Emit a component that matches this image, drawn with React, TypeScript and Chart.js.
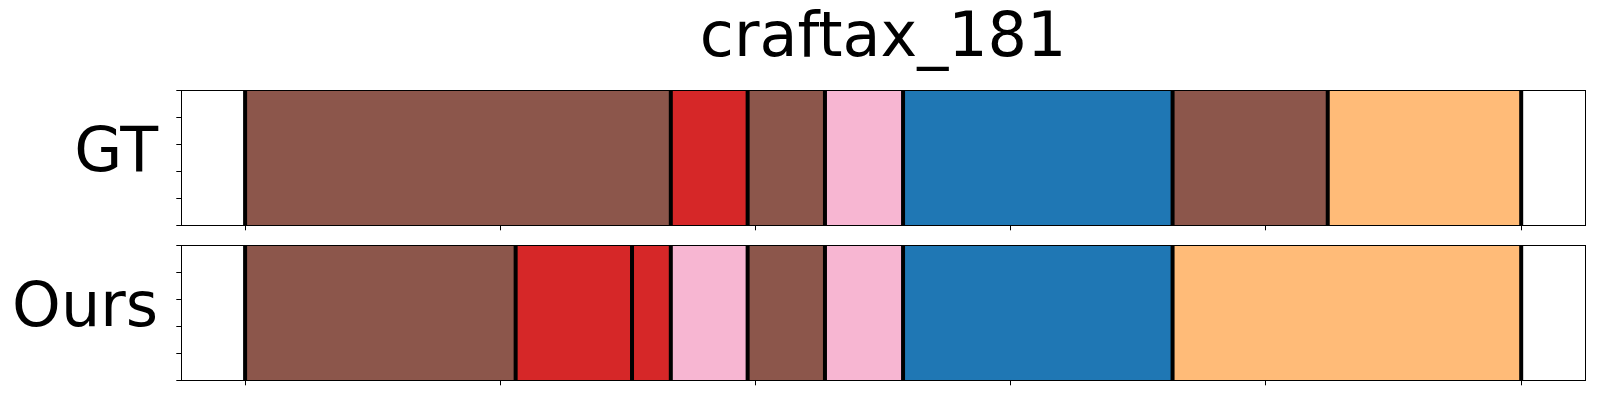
import { useEffect, useRef } from 'react';
import { Chart, registerables } from 'chart.js';

Chart.register(...registerables);

const chartTitle = 'craftax_181';
const rowLabels = ['GT', 'Ours'];
const xTickValues = [0, 50, 100, 150, 200, 250];
const yTickValues = [0, 0.25, 0.5, 0.75, 1];
const xDataMin = 0;
const xDataMax = 250;

const gtStarts = [0, 83.4, 98.45, 113.6, 128.9, 181.7, 212.1];
const gtEnds = [83.4, 98.45, 113.6, 128.9, 181.7, 212.1, 250];
const gtClasses = [10, 6, 10, 13, 0, 10, 3];

const oursStarts = [0, 53.0, 75.8, 83.4, 98.45, 113.6, 128.9, 181.7];
const oursEnds = [53.0, 75.8, 83.4, 98.45, 113.6, 128.9, 181.7, 250];
const oursClasses = [10, 6, 6, 13, 10, 13, 0, 3];

const tab20 = [
  '#1f77b4', '#aec7e8', '#ff7f0e', '#ffbb78', '#2ca02c', '#98df8a', '#d62728', '#ff9896',
  '#9467bd', '#c5b0d5', '#8c564b', '#c49c94', '#e377c2', '#f7b6d2', '#7f7f7f', '#c7c7c7',
  '#bcbd22', '#dbdb8d', '#17becf', '#9edae5',
];

const FONT = '"DejaVu Sans", "Liberation Sans", sans-serif';

function align(px: number, w: number) {
  const h = w / 2;
  return Math.round(px - h) + h;
}

const segmentPlugin = {
  id: 'segmentFrame',
  afterDraw(chart: any) {
    const { ctx, chartArea: a, scales } = chart;
    const data = chart.data.datasets[0].data as { x: number[] }[];
    const edges = new Set<number>();
    data.forEach((d) => {
      edges.add(d.x[0]);
      edges.add(d.x[1]);
    });
    ctx.save();
    ctx.strokeStyle = '#000';
    ctx.lineWidth = 4;
    ctx.beginPath();
    edges.forEach((v) => {
      const px = scales.x.getPixelForValue(v);
      ctx.moveTo(px, a.top);
      ctx.lineTo(px, a.bottom);
    });
    ctx.stroke();
    ctx.lineWidth = 1;
    const l = align(a.left, 1);
    const r = align(a.right, 1);
    const t = align(a.top, 1);
    const b = align(a.bottom, 1);
    ctx.strokeRect(l, t, r - l, b - t);
    ctx.restore();
  },
};

function makeConfig(
  label: string,
  starts: number[],
  ends: number[],
  classes: number[],
  withTitle: boolean,
  pad: { top: number; bottom: number }
): any {
  const margin = (xDataMax - xDataMin) * 0.05;
  return {
    type: 'bar',
    data: {
      labels: [label],
      datasets: [
        {
          data: starts.map((s, i) => ({ y: label, x: [s, ends[i]] })),
          backgroundColor: classes.map((c) => tab20[c]),
          borderWidth: 0,
          categoryPercentage: 1,
          barPercentage: 1,
          xAxisID: 'x',
          yAxisID: 'y',
        },
      ],
    },
    options: {
      indexAxis: 'y',
      animation: false,
      responsive: false,
      maintainAspectRatio: false,
      events: [],
      layout: { padding: { left: 0, right: 15, top: pad.top, bottom: pad.bottom } },
      plugins: {
        legend: { display: false },
        tooltip: { enabled: false },
        title: {
          display: withTitle,
          fullSize: false,
          text: chartTitle,
          color: '#000',
          font: { family: FONT, size: 62, weight: 'normal' },
          padding: { top: 3, bottom: 12.9 },
        },
      },
      scales: {
        x: {
          type: 'linear',
          position: 'bottom',
          min: xDataMin - margin,
          max: xDataMax + margin,
          afterBuildTicks: (s: any) => {
            s.ticks = xTickValues.map((v) => ({ value: v }));
          },
          afterFit: (s: any) => {
            s.height = 5;
            s.paddingLeft = 0;
            s.paddingRight = 0;
          },
          ticks: { display: false, stepSize: xTickValues[1] - xTickValues[0], includeBounds: false },
          grid: { drawOnChartArea: false, drawTicks: true, tickLength: 5, color: '#000', lineWidth: 1 },
          border: { display: true, color: '#000', width: 1 },
        },
        y: {
          type: 'category',
          position: 'left',
          weight: 1,
          offset: true,
          afterFit: (s: any) => {
            s.width = 176.3;
            s.paddingTop = 0;
            s.paddingBottom = 0;
          },
          grid: { display: false, drawTicks: false },
          border: { display: false },
          ticks: { color: '#000', font: { family: FONT, size: 62 }, padding: 18.3, labelOffset: -3 },
        },
        yt: {
          type: 'linear',
          position: 'left',
          weight: 0,
          min: yTickValues[0],
          max: yTickValues[yTickValues.length - 1],
          afterBuildTicks: (s: any) => {
            s.ticks = yTickValues.map((v) => ({ value: v }));
          },
          afterFit: (s: any) => {
            s.width = 5;
            s.paddingTop = 0;
            s.paddingBottom = 0;
          },
          ticks: { display: false, stepSize: yTickValues[1] - yTickValues[0], includeBounds: false },
          grid: { drawOnChartArea: false, drawTicks: true, tickLength: 5, color: '#000', lineWidth: 1 },
          border: { display: true, color: '#000', width: 1 },
        },
      },
    },
    plugins: [segmentPlugin],
  };
}

export default function App() {
  const topRef = useRef<HTMLCanvasElement>(null);
  const botRef = useRef<HTMLCanvasElement>(null);

  useEffect(() => {
    const c1 = new Chart(
      topRef.current!,
      makeConfig(rowLabels[0], gtStarts, gtEnds, gtClasses, true, { top: 0, bottom: 5.7 })
    );
    const c2 = new Chart(
      botRef.current!,
      makeConfig(rowLabels[1], oursStarts, oursEnds, oursClasses, false, { top: 9.3, bottom: 14.7 })
    );
    return () => {
      c1.destroy();
      c2.destroy();
    };
  }, []);

  return (
    <div style={{ position: 'absolute', left: 0, top: 0, width: 1600, height: 400, background: '#fff' }}>
      <canvas ref={topRef} width={1600} height={236} style={{ position: 'absolute', left: 0, top: 0, display: 'block' }} />
      <canvas ref={botRef} width={1600} height={164} style={{ position: 'absolute', left: 0, top: 236, display: 'block' }} />
    </div>
  );
}
